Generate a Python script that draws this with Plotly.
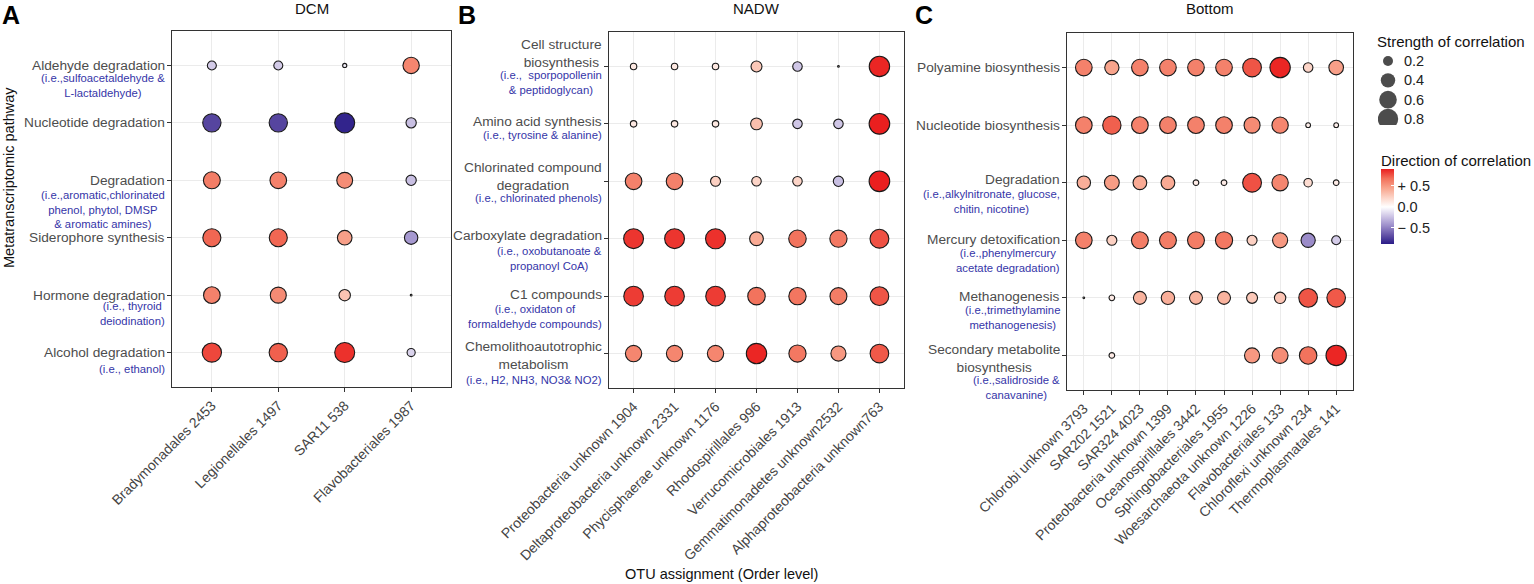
import numpy as np
import plotly.graph_objects as go

W, H = 1534, 584
FONT = "Liberation Sans, Arial, Helvetica, sans-serif"
GREY = "#4D4D4D"
BLUE = "#3535A8"

# ---------------- data ----------------
dcm_otus = ["Bradymonadales 2453", "Legionellales 1497", "SAR11 538", "Flavobacteriales 1987"]
dcm_pathways = ["Aldehyde degradation", "Nucleotide degradation", "Degradation",
                "Siderophore synthesis", "Hormone degradation", "Alcohol degradation"]
dcm_notes = ["(i.e.,sulfoacetaldehyde &<br>L-lactaldehyde)", "",
             "(i.e.,aromatic,chlorinated<br>phenol, phytol, DMSP<br>& aromatic amines)", "",
             "(i.e., thyroid<br>deiodination)", "(i.e., ethanol)"]
dcm_corr = [
    [-0.20, -0.20, -0.07, 0.58],
    [-0.72, -0.72, -0.85, -0.25],
    [0.62, 0.60, 0.55, -0.25],
    [0.70, 0.70, 0.47, -0.40],
    [0.60, 0.56, 0.30, 0.03],
    [0.79, 0.72, 0.85, -0.17],
]

nadw_otus = ["Proteobacteria unknown 1904", "Deltaproteobacteria unknown 2331",
             "Phycisphaerae unknown 1176", "Rhodospirillales 996", "Verrucomicrobiales 1913",
             "Gemmatimonadetes unknown2532", "Alphaproteobacteria unknown763"]
nadw_pathways = ["Cell structure<br>biosynthesis", "Amino acid synthesis",
                 "Chlorinated compound<br>degradation", "Carboxylate degradation",
                 "C1 compounds", "Chemolithoautotrophic<br>metabolism"]
nadw_notes = ["(i.e.,  sporpopollenin<br>& peptidoglycan)", "(i.e., tyrosine & alanine)",
              "(i.e., chlorinated phenols)", "(i.e., oxobutanoate &<br>propanoyl CoA)",
              "(i.e., oxidaton of<br>formaldehyde compounds)", "(i.e., H2, NH3, NO3& NO2)"]
nadw_corr = [
    [0.12, 0.12, 0.12, 0.28, -0.22, 0.03, 0.88],
    [0.12, 0.12, 0.12, 0.32, -0.22, -0.22, 0.90],
    [0.60, 0.60, 0.24, 0.22, 0.22, -0.25, 0.90],
    [0.84, 0.84, 0.85, 0.42, 0.66, 0.64, 0.76],
    [0.82, 0.82, 0.82, 0.66, 0.65, 0.62, 0.75],
    [0.58, 0.58, 0.58, 0.88, 0.64, 0.50, 0.74],
]

bottom_otus = ["Chlorobi unknown 3793", "SAR202 1521", "SAR324 4023", "Proteobacteria unknown 1399",
               "Oceanospirillales 3442", "Sphingobacteriales 1955", "Woesarchaeota unknown 1226",
               "Flavobacteriales 133", "Chloroflexi unknown 234", "Thermoplasmatales 141"]
bottom_pathways = ["Polyamine biosynthesis", "Nucleotide biosynthesis", "Degradation",
                   "Mercury detoxification", "Methanogenesis", "Secondary metabolite<br>biosynthesis"]
bottom_notes = ["", "", "(i.e.,alkylnitronate, glucose,<br>chitin, nicotine)",
                "(i.e.,phenylmercury<br>acetate degradation)",
                "(i.e.,trimethylamine<br>methanogenesis)", "(i.e.,salidroside &<br>canavanine)"]
bottom_corr = [
    [0.60, 0.45, 0.60, 0.60, 0.60, 0.60, 0.75, 0.88, 0.22, 0.47],
    [0.60, 0.72, 0.60, 0.60, 0.60, 0.60, 0.56, 0.58, 0.08, 0.08],
    [0.40, 0.48, 0.42, 0.42, 0.10, 0.10, 0.76, 0.58, 0.18, 0.10],
    [0.60, 0.24, 0.62, 0.62, 0.62, 0.64, 0.24, 0.50, -0.45, -0.20],
    [0.02, 0.10, 0.38, 0.40, 0.38, 0.38, 0.28, 0.30, 0.75, 0.74],
    [None, 0.10, None, None, None, None, 0.50, 0.55, 0.66, 0.88],
]

panel_titles = ["DCM", "NADW", "Bottom"]
panel_letters = ["A", "B", "C"]
legend_sizes = [0.2, 0.4, 0.6, 0.8]
legend_size_labels = ["0.2", "0.4", "0.6", "0.8"]
colorbar_ticks = [-0.5, 0.0, 0.5]
colorbar_ticklabels = ["\u2212 0.5", "0.0", "+ 0.5"]
corr_min, corr_max = -0.88, 0.90

# ---------------- styling ----------------
# panel boxes in pixels: (left, right, top, bottom)
boxes = [(172, 451, 31, 387), (609, 904, 32, 388), (1067, 1353, 33, 390)]
letter_x = [0, 456, 913]
# main label vertical shifts (px, + up) and blue note top offsets (px below tick)
main_shift = [[0, 0, 0, 0, 0, 0],
              [12.5, 2, 4.5, 3, 2, -2],
              [0, 0, 3, 1, 1, -3.5]]
note_top = [[5, 0, 7, 0, 3, 8],
            [1, 3, 9, 4, 5, 18],
            [0, 0, 3, 5, 4, 17]]


def diam(v):
    return float(np.sqrt(max(490.0 * abs(v) - 17.0, 3.0)))


colorscale = [
    [0.0, "#2A1C87"],
    [(-0.66 - corr_min) / (corr_max - corr_min), "#6654A8"],
    [(-0.44 - corr_min) / (corr_max - corr_min), "#9D8FCB"],
    [(-0.22 - corr_min) / (corr_max - corr_min), "#CFC6E6"],
    [(0.0 - corr_min) / (corr_max - corr_min), "#FFFFFF"],
    [(0.225 - corr_min) / (corr_max - corr_min), "#FCD3C6"],
    [(0.45 - corr_min) / (corr_max - corr_min), "#F8A48C"],
    [(0.675 - corr_min) / (corr_max - corr_min), "#F2705A"],
    [1.0, "#EA1F1F"],
]

fig = go.Figure()
panels = [(dcm_otus, dcm_pathways, dcm_notes, dcm_corr),
          (nadw_otus, nadw_pathways, nadw_notes, nadw_corr),
          (bottom_otus, bottom_pathways, bottom_notes, bottom_corr)]

annotations = []
for i, (otus, paths, notes, corr) in enumerate(panels):
    ax = "" if i == 0 else str(i + 1)
    xs, ys, cs, ss = [], [], [], []
    for r, p in enumerate(paths):
        for c, o in enumerate(otus):
            v = corr[r][c]
            if v is None:
                continue
            xs.append(o)
            ys.append(p)
            cs.append(v)
            ss.append(diam(v))
    fig.add_trace(go.Scatter(
        x=xs, y=ys, mode="markers", xaxis="x" + ax, yaxis="y" + ax,
        marker=dict(size=ss, sizemode="diameter", color=cs, coloraxis="coloraxis",
                    line=dict(color="#1A1A1A", width=1.1), opacity=1),
        hoverinfo="x+y+text", text=[f"{v:+.2f}" for v in cs], showlegend=False))

    l, rr, t, b = boxes[i]
    axis_common = dict(showline=True, mirror=True, linecolor="#333333", linewidth=1,
                       showgrid=True, gridcolor="#EBEBEB", gridwidth=1, zeroline=False,
                       ticks="outside", ticklen=4, tickcolor="#333333", tickwidth=1,
                       automargin=False)
    fig.layout["xaxis" + ax] = dict(
        domain=[l / W, rr / W], anchor="y" + ax, type="category",
        categoryorder="array", categoryarray=otus, range=[-0.6, len(otus) - 0.4],
        tickangle=-45, tickfont=dict(family=FONT, size=14, color="#444444"), **axis_common)
    fig.layout["yaxis" + ax] = dict(
        domain=[1 - b / H, 1 - t / H], anchor="x" + ax, type="category",
        categoryorder="array", categoryarray=paths, range=[len(paths) - 0.4, -0.6],
        showticklabels=False, **axis_common)

    for r, p in enumerate(paths):
        annotations.append(dict(
            xref="x" + ax + " domain", yref="y" + ax, x=0, y=p, xanchor="right",
            yanchor="middle", xshift=-5, yshift=main_shift[i][r], text=p, showarrow=False,
            align="center", font=dict(family=FONT, size=13.7, color=GREY)))
        if notes[r]:
            annotations.append(dict(
                xref="x" + ax + " domain", yref="y" + ax, x=0, y=p, xanchor="right",
                yanchor="top", xshift=-5, yshift=-note_top[i][r], text=notes[r],
                showarrow=False, align="center",
                font=dict(family=FONT, size=11.3, color=BLUE)))
    annotations.append(dict(
        xref="x" + ax + " domain", yref="paper", x=0.5, y=1 - 8 / H, xanchor="center",
        yanchor="middle", text=panel_titles[i], showarrow=False,
        font=dict(family=FONT, size=15, color="#111111")))
    annotations.append(dict(
        xref="paper", yref="paper", x=letter_x[i] / W, y=1 - 15 / H, xanchor="left",
        yanchor="middle", text="<b>" + panel_letters[i] + "</b>", showarrow=False,
        font=dict(family=FONT, size=25, color="#000000")))

# size legend on its own hidden axes
fig.add_trace(go.Scatter(
    x=[0] * len(legend_sizes), y=legend_sizes, mode="markers", xaxis="x4", yaxis="y4",
    marker=dict(size=[diam(v) + 1 for v in legend_sizes], sizemode="diameter",
                color="#000000", line=dict(width=0)), hoverinfo="skip", showlegend=False))
fig.layout["xaxis4"] = dict(domain=[1378 / W, 1438 / W], anchor="y4", range=[-10 / 60, 50 / 60],
                            visible=False, automargin=False)
fig.layout["yaxis4"] = dict(domain=[1 - 125 / H, 1 - 55 / H], anchor="x4",
                            range=[0.8 + 6 / 96.7, 0.2 - 6 / 96.7], visible=False,
                            automargin=False)
for v, lab in zip(legend_sizes, legend_size_labels):
    annotations.append(dict(xref="x4", yref="y4", x=0, y=v, xanchor="left", yanchor="middle",
                            xshift=14, text=lab, showarrow=False,
                            font=dict(family=FONT, size=14.5, color="#222222")))
annotations.append(dict(xref="paper", yref="paper", x=1375 / W, y=1 - 42 / H, xanchor="left",
                        yanchor="middle", text="Strength of correlation", showarrow=False,
                        font=dict(family=FONT, size=15, color="#111111")))
annotations.append(dict(xref="paper", yref="paper", x=1379 / W, y=1 - 160 / H, xanchor="left",
                        yanchor="middle", text="Direction of correlation", showarrow=False,
                        font=dict(family=FONT, size=15, color="#111111")))
# axis titles
annotations.append(dict(xref="paper", yref="paper", x=9 / W, y=1 - 178 / H, xanchor="center",
                        yanchor="middle", text="Metatranscriptomic pathway", textangle=-90,
                        showarrow=False, font=dict(family=FONT, size=14.5, color="#111111")))
annotations.append(dict(xref="paper", yref="paper", x=721 / W, y=1 - 574 / H, xanchor="center",
                        yanchor="middle", text="OTU assignment (Order level)", showarrow=False,
                        font=dict(family=FONT, size=14.5, color="#111111")))

fig.update_layout(
    width=W, height=H, autosize=False, margin=dict(l=0, r=0, t=0, b=0, autoexpand=False),
    paper_bgcolor="white", plot_bgcolor="white", font=dict(family=FONT),
    showlegend=False,
    annotations=annotations,
    coloraxis=dict(
        colorscale=colorscale, cmin=corr_min, cmax=corr_max,
        colorbar=dict(x=1381 / W, xanchor="left", xpad=0, y=1 - 169 / H, yanchor="top", ypad=0,
                      len=75, lenmode="pixels", thickness=13, thicknessmode="pixels",
                      outlinewidth=0, tickvals=colorbar_ticks, ticktext=colorbar_ticklabels,
                      ticks="inside", ticklen=3, tickcolor="white",
                      tickfont=dict(family=FONT, size=14.5, color="#222222"))),
)

fig.write_html("out.html", config={"displayModeBar": False},
               post_script="document.body.style.margin='0px';document.body.style.overflow='hidden';")
